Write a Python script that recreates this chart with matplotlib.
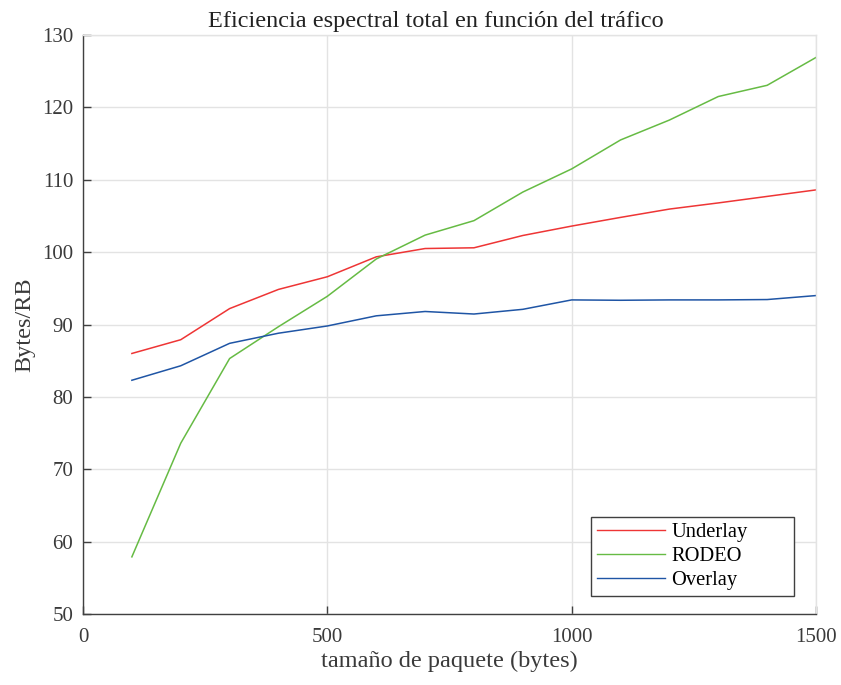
import matplotlib
matplotlib.use("Agg")
import matplotlib.pyplot as plt

# Packet sizes (bytes) and spectral efficiency (Bytes/RB) per scheme
packet_size = [100, 200, 300, 400, 500, 600, 700, 800, 900, 1000, 1100, 1200, 1300, 1400, 1500]
underlay = [86.0, 87.9, 92.2, 94.85, 96.6, 99.35, 100.5, 100.6, 102.3, 103.6, 104.8, 105.95, 106.8, 107.7, 108.6]
rodeo = [57.9, 73.6, 85.3, 89.7, 93.9, 99.05, 102.35, 104.35, 108.3, 111.5, 115.5, 118.25, 121.5, 123.05, 126.9]
overlay = [82.3, 84.3, 87.4, 88.8, 89.8, 91.2, 91.8, 91.45, 92.1, 93.4, 93.35, 93.4, 93.4, 93.45, 94.0]

x_ticks = [0, 500, 1000, 1500]
y_ticks = [50, 60, 70, 80, 90, 100, 110, 120, 130]

plt.rcParams['font.family'] = ['Liberation Serif', 'DejaVu Serif']

fig = plt.figure(figsize=(8.41, 6.85), dpi=100)
ax = fig.add_axes([0.0987, 0.1036, 0.8716, 0.8453])

ax.plot(packet_size, underlay, color='#ee3535', lw=1.1, label='Underlay')
ax.plot(packet_size, rodeo, color='#66bb44', lw=1.1, label='RODEO')
ax.plot(packet_size, overlay, color='#1f55a5', lw=1.1, label='Overlay')

ax.set_xlim(0, 1500)
ax.set_ylim(50, 130)
ax.set_xticks(x_ticks)
ax.set_yticks(y_ticks)
ax.grid(True, color='#e3e3e3', lw=1.0)
ax.set_axisbelow(True)

for side in ('left', 'bottom'):
    ax.spines[side].set_color('#404040')
    ax.spines[side].set_linewidth(1.0)
for side in ('top', 'right'):
    ax.spines[side].set_color('#e3e3e3')
    ax.spines[side].set_linewidth(1.0)

ax.tick_params(axis='both', direction='in', length=6, width=1, color='#404040',
               labelsize=15, labelcolor='#3a3a3a', top=False, right=False)
ax.tick_params(axis='x', pad=10)
ax.tick_params(axis='y', pad=7)

ax.set_title('Eficiencia espectral total en función del tráfico', fontsize=17.5,
             color='#222222', pad=6, x=0.481)
ax.set_xlabel('tamaño de paquete (bytes)', fontsize=17.5, color='#3a3a3a', labelpad=3)
ax.set_ylabel('Bytes/RB', fontsize=17.5, color='#3a3a3a', labelpad=5)

leg = ax.legend(loc='lower left', bbox_to_anchor=(0.693, 0.031, 0.277, 0.14), mode='expand',
                fontsize=14.8, handlelength=3.3, handletextpad=0.3, borderpad=0.3,
                labelspacing=0.22, fancybox=False, framealpha=1, borderaxespad=0)
leg.get_frame().set_edgecolor('#404040')
leg.get_frame().set_linewidth(1.0)
for line in leg.get_lines():
    line.set_linewidth(1.0)

fig.savefig('out.png', dpi=100)
